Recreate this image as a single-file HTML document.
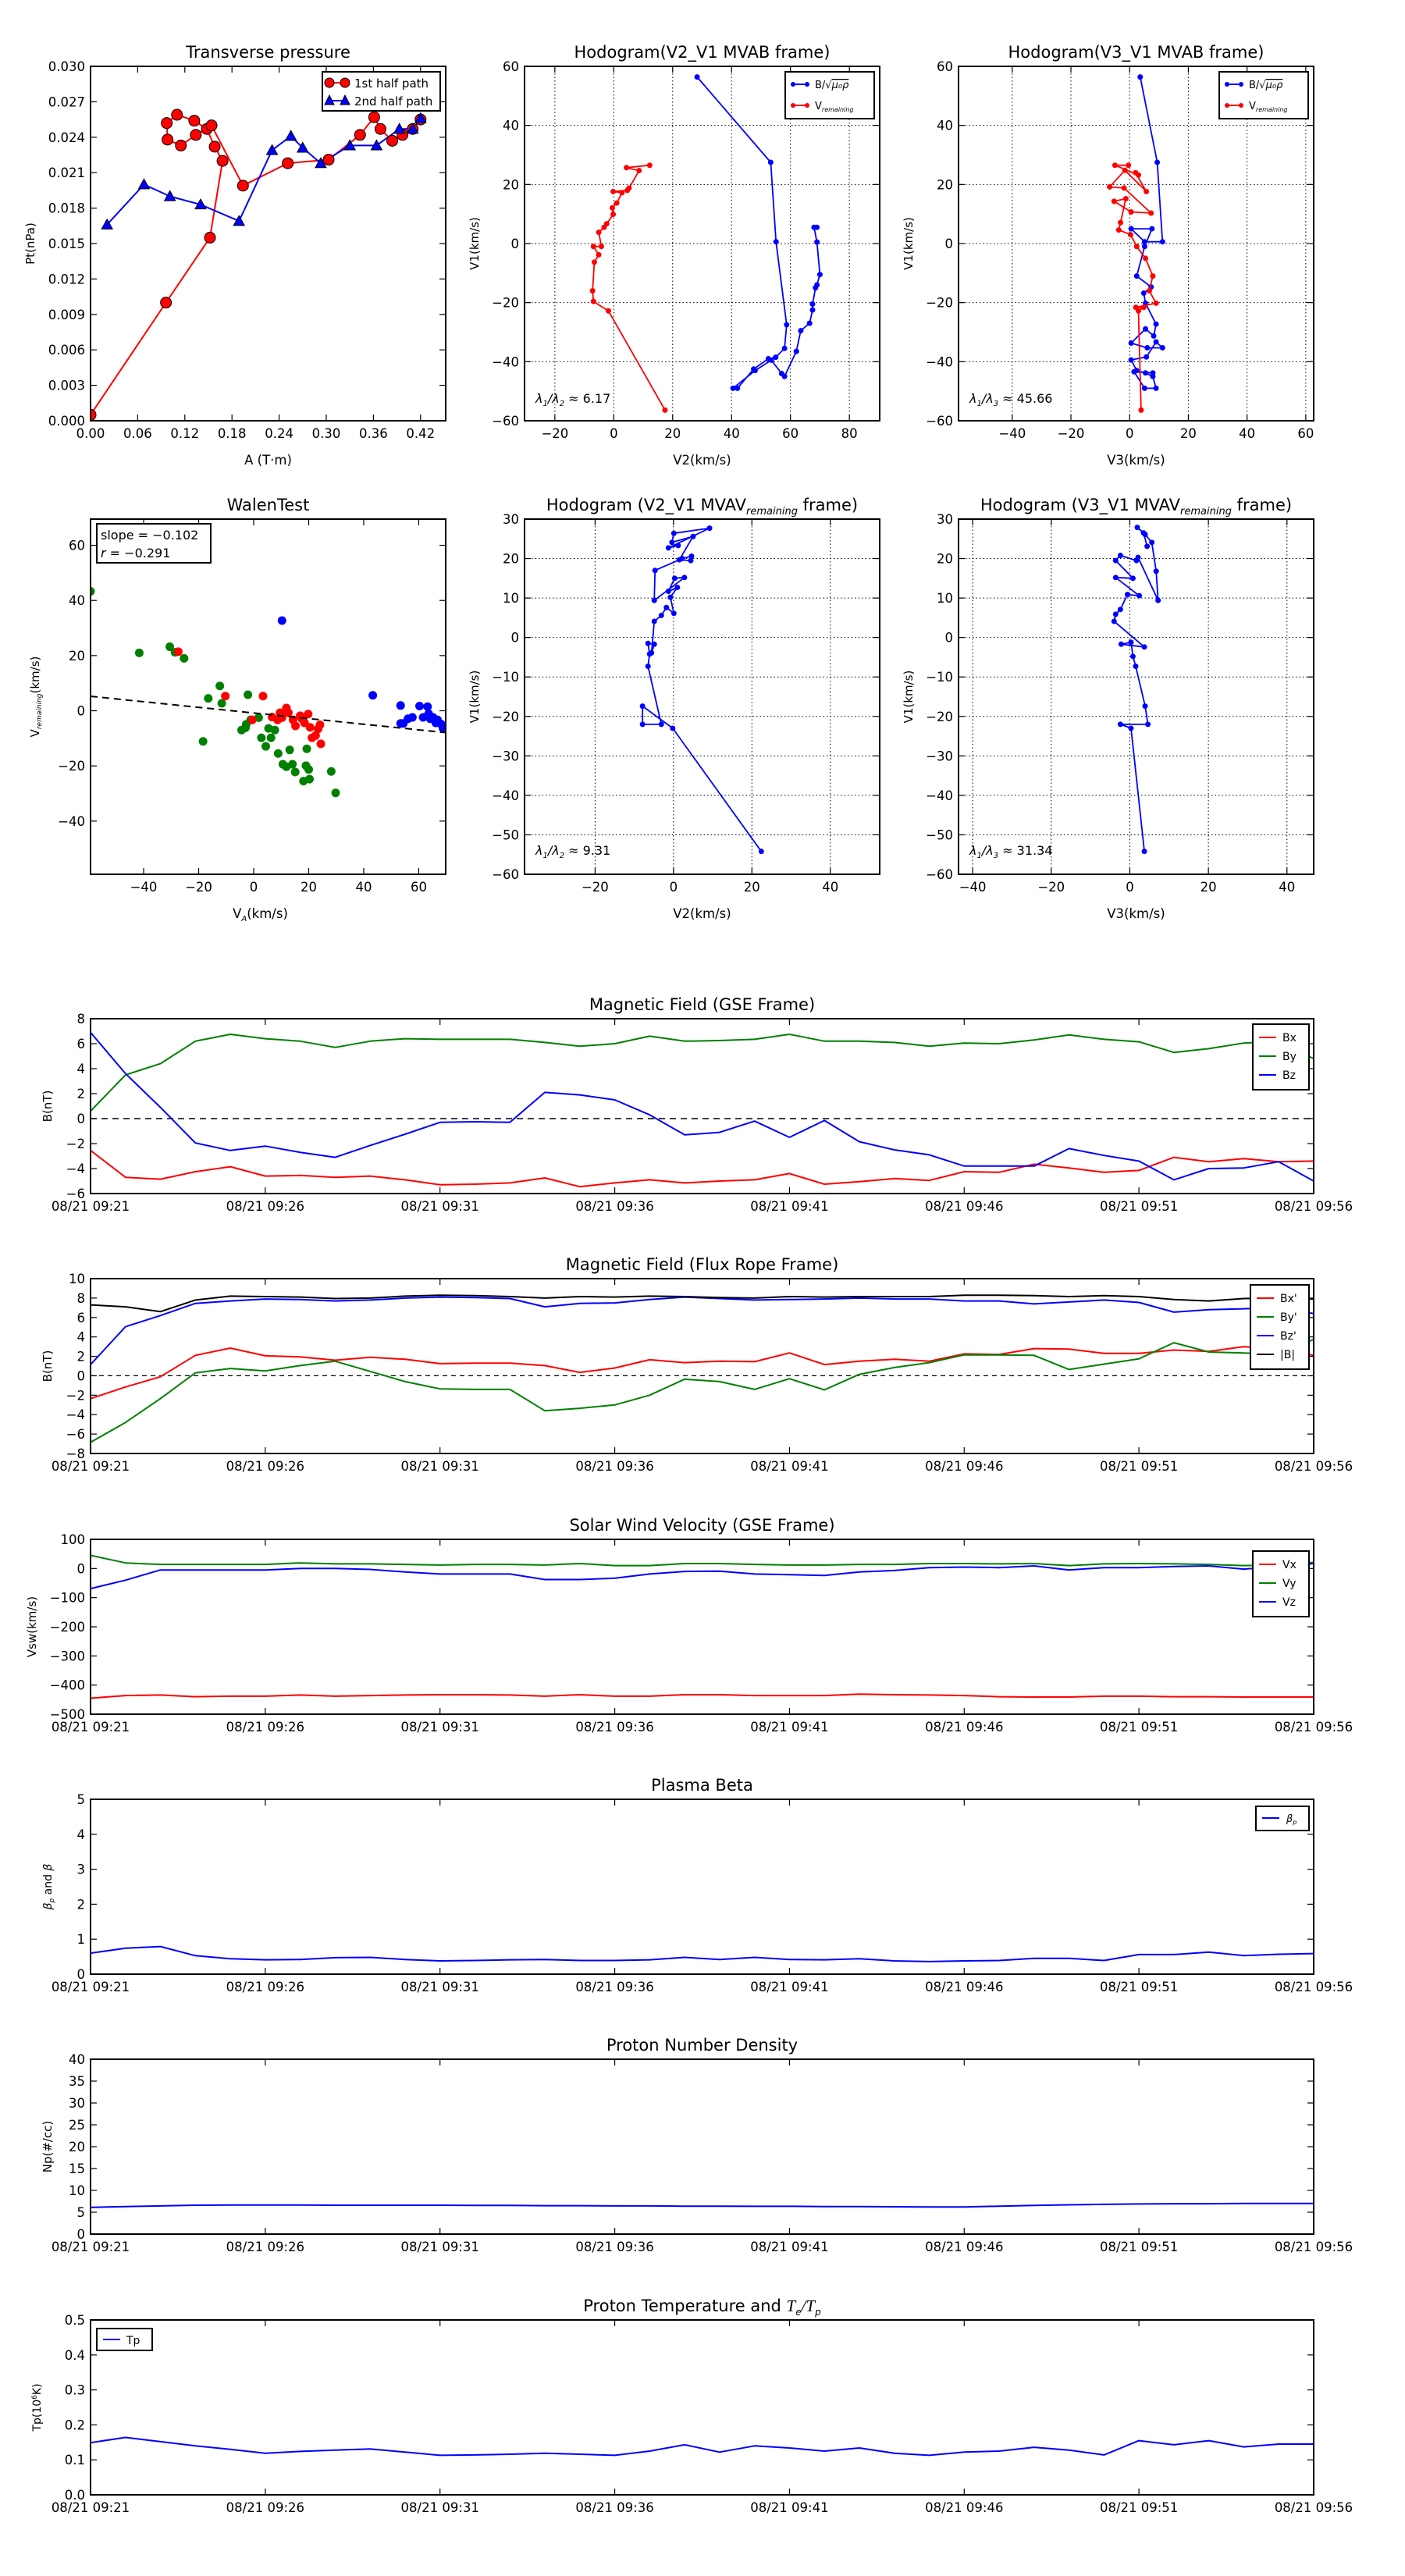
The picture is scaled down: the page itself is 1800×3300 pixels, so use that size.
<!DOCTYPE html>
<html><head><meta charset="utf-8">
<style>
html,body{margin:0;padding:0;background:#fff;}
svg{display:block;}
text{font-family:"DejaVu Sans","Liberation Sans",sans-serif;fill:#000;}
</style></head>
<body>
<svg id="fig" xmlns="http://www.w3.org/2000/svg" width="1800" height="3300" viewBox="0 0 1800 3300">
<rect x="0" y="0" width="1800" height="3300" fill="#fff"/>
</svg>
<script>
// ---------- DATA ----------
const ptRedA = [0.000,0.096,0.152,0.168,0.158,0.148,0.132,0.110,0.097,0.098,0.115,0.134,0.154,0.194,0.251,0.303,0.343,0.361,0.369,0.384,0.397,0.410,0.420];
const ptRedP = [0.0005,0.0100,0.0155,0.0220,0.0232,0.0247,0.0254,0.0259,0.0252,0.0238,0.0233,0.0242,0.0250,0.0199,0.0218,0.0221,0.0242,0.0257,0.0247,0.0237,0.0242,0.0247,0.0255];
const ptBlueA = [0.021,0.068,0.101,0.140,0.189,0.231,0.255,0.270,0.293,0.330,0.364,0.393,0.410,0.420];
const ptBlueP = [0.0166,0.0200,0.0190,0.0183,0.0169,0.0229,0.0241,0.0231,0.0218,0.0233,0.0233,0.0247,0.0247,0.0256];

const h1BlueX = [28.3,53.3,55.1,58.7,58.0,55.0,52.5,47.5,42.0,40.5,48.0,53.5,57.0,58.0,62.0,63.5,66.5,67.5,67.5,68.5,69.0,70.0,69.0,68.0,69.0];
const h1BlueY = [56.4,27.5,0.6,-27.5,-35.5,-38.5,-39.0,-42.5,-49.0,-49.0,-43.0,-39.5,-44.0,-45.0,-36.5,-29.5,-27.0,-22.5,-20.5,-15.0,-14.0,-10.5,0.5,5.5,5.5];
const h1RedX = [12.2,4.3,8.6,5.2,4.6,-0.2,2.8,1.0,-0.5,-0.2,-2.4,-3.3,-5.1,-4.2,-6.9,-5.1,-6.6,-7.2,-6.9,-1.8,17.4];
const h1RedY = [26.5,25.7,24.7,18.8,18.0,17.6,17.2,13.7,12.1,9.9,6.7,5.5,3.8,-1.0,-1.0,-3.8,-6.3,-16.0,-19.6,-22.8,-56.4];

const h2BlueX = [3.6,9.4,11.2,5.1,0.5,7.6,5.1,2.4,7.3,4.8,5.4,9.0,8.2,5.4,0.5,6.0,11.2,9.0,5.7,0.5,2.4,5.4,7.9,9.0,5.1,1.5,7.9];
const h2BlueY = [56.4,27.5,0.6,0.6,5.0,5.0,-1.0,-11.0,-14.7,-16.8,-20.2,-27.3,-31.3,-28.9,-33.7,-35.3,-35.3,-33.3,-38.4,-39.4,-43.0,-43.8,-45.0,-49.0,-49.0,-43.4,-43.8];
const h2RedX = [-0.4,-5.0,3.0,2.0,5.7,-1.6,-6.8,-1.9,7.3,0.5,-5.3,-1.3,-3.1,-3.7,0.3,2.4,5.4,7.9,6.7,9.0,2.1,4.8,3.0,3.9];
const h2RedY = [26.5,26.5,23.2,24.0,17.6,24.8,19.2,18.8,10.3,10.7,14.3,15.2,7.1,4.6,3.0,-1.0,-5.0,-11.0,-16.0,-20.2,-21.6,-21.6,-22.8,-56.4];

const walenGreenX = [-59.3,-41.6,-30.5,-28.6,-25.3,-12.3,-16.5,-11.6,-2.1,1.8,-1.1,-4.4,-2.7,-3.0,-18.4,2.8,5.4,7.7,6.3,4.4,8.9,10.6,11.9,14.1,15.1,13.1,19.0,20.0,18.1,20.3,19.3,28.2,29.8];
const walenGreenY = [43.3,21.0,23.2,21.2,19.0,9.0,4.5,2.7,5.8,-2.5,-3.3,-7.0,-4.9,-6.2,-11.1,-9.8,-6.4,-7.0,-9.8,-12.9,-15.5,-19.4,-20.3,-19.4,-22.2,-14.2,-19.9,-21.3,-25.5,-24.8,-13.8,-22.0,-29.8];
const walenRedX = [-27.4,-10.3,3.4,-0.5,11.9,10.3,8.7,12.6,14.3,15.2,16.9,18.5,19.8,20.5,21.2,23.4,24.1,22.5,24.4,17.5,6.7,9.6];
const walenRedY = [21.4,5.3,5.3,-3.3,1.0,-2.5,-3.3,-0.7,-3.3,-5.5,-1.8,-4.4,-1.2,-6.0,-9.8,-6.6,-5.1,-9.0,-12.0,-2.9,-2.3,-0.7];
const walenBlueX = [10.3,43.3,53.4,60.3,63.2,56.1,54.4,57.7,53.4,63.6,65.2,66.8,68.1,68.8,66.2,64.2,61.6];
const walenBlueY = [32.7,5.6,1.9,1.7,1.5,-2.9,-4.6,-2.4,-4.6,-1.1,-2.4,-3.3,-4.8,-6.3,-4.4,-2.9,-2.4];
const walenSlope = -0.102;
const walenIntercept = -0.8;

const h3X = [22.4,-0.2,-7.9,-7.9,-3.1,-6.5,-6.1,-6.5,-4.9,-5.6,-4.9,-3.1,-1.8,0.1,-0.8,1.0,-1.3,0.3,2.8,-4.9,-4.7,2.2,4.6,4.4,1.5,5.0,-0.4,0.1,9.2,-1.3,1.2];
const h3Y = [-54.2,-23.0,-17.4,-22.0,-22.0,-7.3,-4.2,-1.5,-1.7,-3.9,4.1,5.6,7.6,6.1,10.2,12.7,11.7,15.0,15.2,9.4,17.0,20.0,20.6,19.5,19.7,25.6,24.1,26.4,27.7,22.7,23.3];
const h4X = [3.7,0.3,-2.4,4.6,3.9,1.5,0.8,0.3,-2.2,3.7,-4.0,-3.6,-2.4,-0.6,2.4,-3.6,0.8,-3.6,-2.4,1.7,2.1,7.2,6.7,5.6,3.9,1.9,3.5,4.4];
const h4Y = [-54.2,-23.0,-22.0,-22.0,-17.4,-7.3,-4.8,-1.2,-1.7,-2.4,4.1,5.9,7.1,10.9,10.6,15.2,15.0,19.5,20.8,19.5,20.3,9.4,16.8,24.1,26.1,27.9,26.5,23.1];

const minutes = [0,1,2,3,4,5,6,7,8,9,10,11,12,13,14,15,16,17,18,19,20,21,22,23,24,25,26,27,28,29,30,31,32,33,34,35];
const timeTicks = ["08/21 09:21","08/21 09:26","08/21 09:31","08/21 09:36","08/21 09:41","08/21 09:46","08/21 09:51","08/21 09:56"];
const gseBx = [-2.55,-4.7,-4.85,-4.25,-3.85,-4.6,-4.55,-4.7,-4.6,-4.9,-5.3,-5.25,-5.15,-4.75,-5.45,-5.15,-4.9,-5.15,-5.0,-4.9,-4.4,-5.25,-5.05,-4.8,-4.95,-4.25,-4.3,-3.65,-3.95,-4.3,-4.15,-3.1,-3.45,-3.2,-3.45,-3.4];
const gseBy = [0.6,3.5,4.4,6.2,6.75,6.4,6.2,5.7,6.2,6.4,6.35,6.35,6.35,6.1,5.8,6.0,6.6,6.2,6.25,6.35,6.75,6.2,6.2,6.1,5.8,6.05,6.0,6.3,6.7,6.35,6.15,5.3,5.6,6.05,6.2,4.8];
const gseBz = [6.9,3.6,0.9,-1.95,-2.55,-2.2,-2.7,-3.1,-2.15,-1.25,-0.3,-0.25,-0.3,2.1,1.9,1.5,0.3,-1.3,-1.1,-0.2,-1.5,-0.15,-1.85,-2.5,-2.9,-3.8,-3.8,-3.8,-2.4,-2.95,-3.4,-4.9,-4.0,-3.95,-3.45,-5.0];
const frBx = [-2.35,-1.15,-0.1,2.1,2.85,2.05,1.95,1.6,1.9,1.7,1.25,1.3,1.3,1.05,0.35,0.8,1.65,1.35,1.5,1.45,2.35,1.15,1.5,1.7,1.5,2.25,2.2,2.8,2.75,2.3,2.3,2.65,2.5,3.0,2.7,2.1];
const frBy = [-6.85,-4.8,-2.35,0.3,0.75,0.5,1.05,1.5,0.45,-0.6,-1.35,-1.4,-1.4,-3.6,-3.35,-3.0,-2.0,-0.35,-0.6,-1.4,-0.3,-1.45,0.15,0.85,1.35,2.15,2.15,2.1,0.65,1.2,1.75,3.4,2.45,2.35,2.2,3.75];
const frBz = [1.15,5.05,6.2,7.45,7.7,7.9,7.85,7.7,7.8,8.0,8.1,8.05,7.95,7.1,7.45,7.5,7.85,8.1,7.95,7.8,7.85,7.9,8.0,7.9,7.9,7.7,7.7,7.4,7.6,7.8,7.55,6.55,6.8,6.9,7.05,6.4];
const frBt = [7.3,7.1,6.6,7.8,8.2,8.15,8.1,7.95,8.0,8.2,8.3,8.25,8.15,8.0,8.15,8.1,8.2,8.15,8.05,8.0,8.15,8.1,8.15,8.15,8.15,8.3,8.3,8.25,8.15,8.25,8.15,7.85,7.7,7.95,8.0,7.9];
const vx = [-445,-436,-434,-440,-438,-438,-434,-438,-436,-434,-433,-433,-434,-438,-433,-438,-438,-433,-433,-436,-436,-436,-431,-433,-434,-436,-440,-441,-441,-438,-438,-440,-440,-441,-441,-441];
const vy = [45,19,14,14,14,14,19,16,16,14,12,14,14,12,17,10,10,17,17,14,12,12,14,14,17,17,16,17,10,16,17,16,14,10,12,21];
const vz = [-69,-40,-5,-5,-5,-5,0,0,-3,-12,-19,-19,-19,-38,-38,-33,-19,-10,-9,-19,-21,-24,-12,-7,3,5,3,9,-5,3,3,7,9,-2,7,17];
const betaP = [0.6,0.74,0.79,0.53,0.44,0.41,0.42,0.47,0.48,0.42,0.38,0.39,0.41,0.42,0.39,0.39,0.41,0.48,0.42,0.48,0.42,0.41,0.44,0.38,0.36,0.38,0.39,0.45,0.45,0.39,0.56,0.56,0.63,0.53,0.57,0.59];
const density = [6.1,6.3,6.45,6.6,6.65,6.65,6.65,6.6,6.6,6.6,6.6,6.55,6.55,6.5,6.5,6.45,6.45,6.4,6.4,6.35,6.35,6.3,6.3,6.25,6.2,6.2,6.4,6.55,6.7,6.8,6.9,6.95,6.95,7.0,7.0,7.0];
const tempP = [0.149,0.164,0.152,0.140,0.130,0.119,0.124,0.128,0.131,0.122,0.113,0.114,0.116,0.119,0.116,0.113,0.125,0.143,0.122,0.140,0.134,0.125,0.134,0.119,0.113,0.122,0.125,0.136,0.128,0.114,0.155,0.143,0.155,0.137,0.145,0.145];

// ---------- HELPERS ----------
const NS = "http://www.w3.org/2000/svg";
const svg = document.getElementById('fig');
const MINUS = '\u2212';
function el(tag, attrs, parent, name, inter) {
  const e = document.createElementNS(NS, tag);
  for (const k in attrs) e.setAttribute(k, attrs[k]);
  
  
  (parent || svg).appendChild(e);
  return e;
}
function txt(s, x, y, size, anchor, parent, name, extra) {
  const a = {x: x, y: y, 'font-size': size, 'text-anchor': anchor || 'middle'};
  if (extra) for (const k in extra) a[k] = extra[k];
  const t = el('text', a, parent, name, false);
  t.textContent = s;
  return t;
}
function fmt(v, d) {
  const s = Math.abs(v).toFixed(d);
  return (v < -1e-9 ? MINUS : '') + s;
}
let clipId = 0;
function makePanel(name, x0, y0, w, h, xmin, xmax, ymin, ymax) {
  const g = el('g', {}, svg, name, false);
  const p = {g, x0, y0, w, h, xmin, xmax, ymin, ymax};
  p.sx = v => x0 + (v - xmin) / (xmax - xmin) * w;
  p.sy = v => y0 + h - (v - ymin) / (ymax - ymin) * h;
  clipId++;
  const cp = el('clipPath', {id: 'clip' + clipId}, g, name + '-clip', false);
  el('rect', {x: x0, y: y0, width: w, height: h}, cp, name + '-clip-rect', false);
  p.plot = el('g', {'clip-path': 'url(#clip' + clipId + ')'}, g, name + '-plot-area', false);
  return p;
}
function frame(p) {
  el('rect', {x: p.x0, y: p.y0, width: p.w, height: p.h, fill: 'none', stroke: '#000', 'stroke-width': 2}, p.g, 'axes-frame', false);
}
function xTicks(p, vals, labels, grid) {
  const gg = el('g', {}, p.g, 'x-axis', false);
  vals.forEach((v, i) => {
    const X = p.sx(v);
    if (grid) el('line', {x1: X, x2: X, y1: p.y0, y2: p.y0 + p.h, stroke: '#000', 'stroke-width': 1, 'stroke-dasharray': '1.5,3'}, p.plot, 'x-grid-line', false);
    el('line', {x1: X, x2: X, y1: p.y0 + p.h, y2: p.y0 + p.h - 8, stroke: '#000', 'stroke-width': 1.2}, gg, 'x-tick', false);
    el('line', {x1: X, x2: X, y1: p.y0, y2: p.y0 + 8, stroke: '#000', 'stroke-width': 1.2}, gg, 'x-tick-top', false);
    txt(labels[i], X, p.y0 + p.h + 22, 16.5, 'middle', gg, 'x-tick-label');
  });
}
function yTicks(p, vals, labels, grid) {
  const gg = el('g', {}, p.g, 'y-axis', false);
  vals.forEach((v, i) => {
    const Y = p.sy(v);
    if (grid) el('line', {x1: p.x0, x2: p.x0 + p.w, y1: Y, y2: Y, stroke: '#000', 'stroke-width': 1, 'stroke-dasharray': '1.5,3'}, p.plot, 'y-grid-line', false);
    el('line', {x1: p.x0, x2: p.x0 + 8, y1: Y, y2: Y, stroke: '#000', 'stroke-width': 1.2}, gg, 'y-tick', false);
    el('line', {x1: p.x0 + p.w, x2: p.x0 + p.w - 8, y1: Y, y2: Y, stroke: '#000', 'stroke-width': 1.2}, gg, 'y-tick-right', false);
    txt(labels[i], p.x0 - 7, Y + 6, 16.5, 'end', gg, 'y-tick-label');
  });
}
function range(a, b, s) { const r = []; for (let v = a; v <= b + 1e-9; v += s) r.push(+v.toFixed(6)); return r; }
function polyline(p, xs, ys, color, width, name, dash) {
  const pts = xs.map((x, i) => p.sx(x).toFixed(1) + ',' + p.sy(ys[i]).toFixed(1)).join(' ');
  const a = {points: pts, fill: 'none', stroke: color, 'stroke-width': width, 'stroke-linejoin': 'round'};
  if (dash) a['stroke-dasharray'] = dash;
  return el('polyline', a, p.plot, name, false);
}
function dots(p, xs, ys, color, r, name, stroke) {
  xs.forEach((x, i) => {
    const a = {cx: p.sx(x), cy: p.sy(ys[i]), r: r, fill: color};
    if (stroke) { a.stroke = '#000'; a['stroke-width'] = 1; }
    el('circle', a, p.plot, name, false);
  });
}
function tris(p, xs, ys, color, s, name) {
  xs.forEach((x, i) => {
    const X = p.sx(x), Y = p.sy(ys[i]);
    el('polygon', {points: `${X},${Y - s} ${X - s},${Y + s * 0.8} ${X + s},${Y + s * 0.8}`, fill: color, stroke: '#000', 'stroke-width': 1}, p.plot, name, false);
  });
}
function title(p, s, name) { return txt(s, p.x0 + p.w / 2, p.y0 - 11, 21, 'middle', p.g, name || 'chart-title'); }
function ylabel(p, s, x, name) {
  return txt(s, x, p.y0 + p.h / 2, 15, 'middle', p.g, name || 'y-axis-title', {transform: `rotate(-90 ${x} ${p.y0 + p.h / 2})`});
}
function xlabel(p, s, name) { return txt(s, p.x0 + p.w / 2, p.y0 + p.h + 56, 16.5, 'middle', p.g, name || 'x-axis-title'); }
function legendBox(p, x, y, w, h, name) {
  const g = el('g', {}, p.g, name, false);
  el('rect', {x, y, width: w, height: h, fill: '#fff', stroke: '#000', 'stroke-width': 2}, g, 'legend-frame', false);
  return g;
}

// ---------- TOP ROW ----------
const colX = [116, 672, 1228], PW = 455, PH = 454;
// Transverse pressure
const pPt = makePanel('transverse-pressure-chart', colX[0], 85, PW, PH, 0, 0.452, 0, 0.030);
polyline(pPt, ptRedA, ptRedP, '#f00', 2, 'first-half-path-line');
polyline(pPt, ptBlueA, ptBlueP, '#00f', 2, 'second-half-path-line');
dots(pPt, ptRedA, ptRedP, '#f00', 7, 'first-half-point', true);
tris(pPt, ptBlueA, ptBlueP, '#00f', 7, 'second-half-point');
frame(pPt);
const ptX = range(0, 0.42, 0.06); xTicks(pPt, ptX, ptX.map(v => v.toFixed(2)));
const ptY = range(0, 0.030, 0.003); yTicks(pPt, ptY, ptY.map(v => v.toFixed(3)));
title(pPt, 'Transverse pressure');
xlabel(pPt, 'A (T\u00b7m)');
ylabel(pPt, 'Pt(nPa)', 44);
{
  const g = legendBox(pPt, 413, 92, 151, 50, 'pt-legend');
  el('line', {x1: 422, x2: 442, y1: 106, y2: 106, stroke: '#f00', 'stroke-width': 2}, g, 'legend-line', false);
  el('circle', {cx: 422, cy: 106, r: 6, fill: '#f00', stroke: '#000'}, g, 'legend-marker', false);
  el('circle', {cx: 442, cy: 106, r: 6, fill: '#f00', stroke: '#000'}, g, 'legend-marker', false);
  txt('1st half path', 454, 112, 15, 'start', g, 'legend-entry-first-half');
  el('line', {x1: 422, x2: 442, y1: 129, y2: 129, stroke: '#00f', 'stroke-width': 2}, g, 'legend-line', false);
  el('polygon', {points: '422,122 416,134 428,134', fill: '#00f', stroke: '#000'}, g, 'legend-marker', false);
  el('polygon', {points: '442,122 436,134 448,134', fill: '#00f', stroke: '#000'}, g, 'legend-marker', false);
  txt('2nd half path', 454, 135, 15, 'start', g, 'legend-entry-second-half');
}

function hodoLegend(p, x, name) {
  const g = legendBox(p, x, 92, 114, 60, name);
  el('line', {x1: x + 8, x2: x + 30, y1: 108, y2: 108, stroke: '#00f', 'stroke-width': 2}, g, 'legend-line', false);
  el('circle', {cx: x + 10, cy: 108, r: 3, fill: '#00f'}, g, 'legend-marker', false);
  el('circle', {cx: x + 28, cy: 108, r: 3, fill: '#00f'}, g, 'legend-marker', false);
  const t1 = txt('B/\u221A', x + 38, 113, 13, 'start', g, 'legend-entry-b');
  const ts = el('tspan', {'font-style': 'italic', 'text-decoration': 'overline'}, t1, 'legend-sqrt-arg', false);
  ts.textContent = '\u03bc\u2080\u03c1';
  el('line', {x1: x + 8, x2: x + 30, y1: 135, y2: 135, stroke: '#f00', 'stroke-width': 2}, g, 'legend-line', false);
  el('circle', {cx: x + 10, cy: 135, r: 3, fill: '#f00'}, g, 'legend-marker', false);
  el('circle', {cx: x + 28, cy: 135, r: 3, fill: '#f00'}, g, 'legend-marker', false);
  const t2 = txt('V', x + 38, 140, 13, 'start', g, 'legend-entry-v');
  const sub = el('tspan', {'font-size': 8, 'font-style': 'italic', dy: 3}, t2, 'legend-subscript', false);
  sub.textContent = 'remaining';
}
function lambdaText(p, s1, s2, val, y) {
  const t = txt('\u03bb', p.x0 + 14, y, 16, 'start', p.g, 'eigenvalue-ratio', {'font-style': 'italic'});
  const a = el('tspan', {'font-size': 10, dy: 4}, t, 'subscript', false); a.textContent = s1;
  const b = el('tspan', {dy: -4}, t, 'ratio-slash', false); b.textContent = '/\u03bb';
  const c = el('tspan', {'font-size': 10, dy: 4}, t, 'subscript', false); c.textContent = s2;
  const d = el('tspan', {dy: -4, 'font-style': 'normal'}, t, 'ratio-value', false); d.textContent = ' \u2248 ' + val;
}

// Hodogram V2_V1 MVAB
const pH1 = makePanel('hodogram-v2-v1-mvab', colX[1], 85, PW, PH, -30.3, 90.3, -60, 60);
const h1Xt = range(-20, 80, 20), h1Yt = range(-60, 60, 20);
xTicks(pH1, h1Xt, h1Xt.map(v => fmt(v, 0)), true);
yTicks(pH1, h1Yt, h1Yt.map(v => fmt(v, 0)), true);
polyline(pH1, h1BlueX, h1BlueY, '#00f', 1.8, 'b-field-hodogram-line');
dots(pH1, h1BlueX, h1BlueY, '#00f', 3.5, 'b-field-point');
polyline(pH1, h1RedX, h1RedY, '#f00', 1.8, 'v-remaining-hodogram-line');
dots(pH1, h1RedX, h1RedY, '#f00', 3.5, 'v-remaining-point');
frame(pH1);
title(pH1, 'Hodogram(V2_V1 MVAB frame)');
xlabel(pH1, 'V2(km/s)'); ylabel(pH1, 'V1(km/s)', 613);
hodoLegend(pH1, 1006, 'hodogram1-legend');
lambdaText(pH1, '1', '2', '6.17', 516);

// Hodogram V3_V1 MVAB
const pH2 = makePanel('hodogram-v3-v1-mvab', colX[2], 85, PW, PH, -58.3, 62.7, -60, 60);
const h2Xt = range(-40, 60, 20);
xTicks(pH2, h2Xt, h2Xt.map(v => fmt(v, 0)), true);
yTicks(pH2, h1Yt, h1Yt.map(v => fmt(v, 0)), true);
polyline(pH2, h2BlueX, h2BlueY, '#00f', 1.8, 'b-field-hodogram-line');
dots(pH2, h2BlueX, h2BlueY, '#00f', 3.5, 'b-field-point');
polyline(pH2, h2RedX, h2RedY, '#f00', 1.8, 'v-remaining-hodogram-line');
dots(pH2, h2RedX, h2RedY, '#f00', 3.5, 'v-remaining-point');
frame(pH2);
title(pH2, 'Hodogram(V3_V1 MVAB frame)');
xlabel(pH2, 'V3(km/s)'); ylabel(pH2, 'V1(km/s)', 1169);
hodoLegend(pH2, 1562, 'hodogram2-legend');
lambdaText(pH2, '1', '3', '45.66', 516);

// ---------- SECOND ROW ----------
const pW = makePanel('walen-test-chart', colX[0], 665, PW, 455, -59.3, 69.8, -59.3, 69.5);
dots(pW, walenGreenX, walenGreenY, '#008000', 5.5, 'walen-point-green');
dots(pW, walenRedX, walenRedY, '#f00', 5.5, 'walen-point-red');
dots(pW, walenBlueX, walenBlueY, '#00f', 5.5, 'walen-point-blue');
{
  const fx = [pW.xmin, pW.xmax];
  const fy = fx.map(x => walenSlope * x + walenIntercept);
  polyline(pW, fx, fy, '#000', 2, 'walen-fit-line', '9,6');
}
frame(pW);
const wXt = range(-40, 60, 20), wYt = range(-40, 60, 20);
xTicks(pW, wXt, wXt.map(v => fmt(v, 0)));
yTicks(pW, wYt, wYt.map(v => fmt(v, 0)));
title(pW, 'WalenTest');
{
  const t = txt('V', pW.x0 + pW.w / 2 - 10, pW.y0 + pW.h + 56, 16.5, 'middle', pW.g, 'x-axis-title');
  const s = el('tspan', {'font-size': 10, 'font-style': 'italic', dy: 4}, t, 'subscript', false); s.textContent = 'A';
  const r = el('tspan', {dy: -4}, t, 'unit', false); r.textContent = '(km/s)';
  const yc = pW.y0 + pW.h / 2;
  const t2 = txt('V', 50, yc, 15, 'middle', pW.g, 'y-axis-title', {transform: `rotate(-90 50 ${yc})`});
  const s2 = el('tspan', {'font-size': 9, 'font-style': 'italic', dy: 3}, t2, 'subscript', false); s2.textContent = 'remaining';
  const r2 = el('tspan', {dy: -3}, t2, 'unit', false); r2.textContent = '(km/s)';
  const g = legendBox(pW, 124, 671, 146, 50, 'walen-stats-box');
  txt('slope = ' + MINUS + '0.102', 129, 691, 16, 'start', g, 'slope-text');
  const rt = txt('r', 129, 714, 16, 'start', g, 'correlation-text', {'font-style': 'italic'});
  const rv = el('tspan', {'font-style': 'normal'}, rt, 'correlation-value', false); rv.textContent = ' = ' + MINUS + '0.291';
}

function hodoTitle(p, pre) {
  const t = txt(pre, p.x0 + p.w / 2, p.y0 - 11, 21, 'middle', p.g, 'chart-title');
  const s = el('tspan', {'font-size': 13, 'font-style': 'italic', dy: 5}, t, 'title-subscript', false); s.textContent = 'remaining';
  const e = el('tspan', {dy: -5}, t, 'title-end', false); e.textContent = ' frame)';
}
const rowYt = range(-60, 30, 10);
const pH3 = makePanel('hodogram-v2-v1-mvav', colX[1], 665, PW, 455, -38, 52.6, -60, 30);
const h3Xt = range(-20, 40, 20);
xTicks(pH3, h3Xt, h3Xt.map(v => fmt(v, 0)), true);
yTicks(pH3, rowYt, rowYt.map(v => fmt(v, 0)), true);
polyline(pH3, h3X, h3Y, '#00f', 1.8, 'b-field-hodogram-line');
dots(pH3, h3X, h3Y, '#00f', 3.5, 'b-field-point');
frame(pH3);
hodoTitle(pH3, 'Hodogram (V2_V1 MVAV');
xlabel(pH3, 'V2(km/s)'); ylabel(pH3, 'V1(km/s)', 613);
lambdaText(pH3, '1', '2', '9.31', 1095);

const pH4 = makePanel('hodogram-v3-v1-mvav', colX[2], 665, PW, 455, -43.6, 46.8, -60, 30);
const h4Xt = range(-40, 40, 20);
xTicks(pH4, h4Xt, h4Xt.map(v => fmt(v, 0)), true);
yTicks(pH4, rowYt, rowYt.map(v => fmt(v, 0)), true);
polyline(pH4, h4X, h4Y, '#00f', 1.8, 'b-field-hodogram-line');
dots(pH4, h4X, h4Y, '#00f', 3.5, 'b-field-point');
frame(pH4);
hodoTitle(pH4, 'Hodogram (V3_V1 MVAV');
xlabel(pH4, 'V3(km/s)'); ylabel(pH4, 'V1(km/s)', 1169);
lambdaText(pH4, '1', '3', '31.34', 1095);

// ---------- TIME SERIES ----------
const tsTop = [1305, 1638, 1972, 2305, 2638, 2972];
const TSW = 1567;
function tsPanel(i, name, ymin, ymax, ystep, dec) {
  const p = makePanel(name, 116, tsTop[i], TSW, 224, 0, 35, ymin, ymax);
  const tv = range(0, 35, 5);
  xTicks(p, tv, timeTicks);
  const yv = range(ymin, ymax, ystep);
  yTicks(p, yv, yv.map(v => fmt(v, dec)));
  return p;
}
function tsLegend(p, x, y, entries, name) {
  const h = 12 + entries.length * 24;
  const g = legendBox(p, x, y, 1677 - x, h, name);
  entries.forEach((e, i) => {
    const yy = y + 17 + i * 24;
    el('line', {x1: x + 8, x2: x + 30, y1: yy, y2: yy, stroke: e[1], 'stroke-width': 2}, g, 'legend-line', false);
    txt(e[0], x + 38, yy + 5, 14, 'start', g, 'legend-entry');
  });
}
const pG = tsPanel(0, 'magnetic-field-gse-chart', -6, 8, 2, 0);
polyline(pG, [0, 35], [0, 0], '#000', 1.5, 'zero-line', '8,6');
polyline(pG, minutes, gseBx, '#f00', 2, 'bx-line');
polyline(pG, minutes, gseBy, '#008000', 2, 'by-line');
polyline(pG, minutes, gseBz, '#00f', 2, 'bz-line');
frame(pG); title(pG, 'Magnetic Field (GSE Frame)'); ylabel(pG, 'B(nT)', 66);
tsLegend(pG, 1605, 1312, [['Bx', '#f00'], ['By', '#008000'], ['Bz', '#00f']], 'gse-legend');

const pF = tsPanel(1, 'magnetic-field-flux-rope-chart', -8, 10, 2, 0);
polyline(pF, [0, 35], [0, 0], '#000', 1.2, 'zero-line', '6,5');
polyline(pF, minutes, frBx, '#f00', 2, 'bx-prime-line');
polyline(pF, minutes, frBy, '#008000', 2, 'by-prime-line');
polyline(pF, minutes, frBz, '#00f', 2, 'bz-prime-line');
polyline(pF, minutes, frBt, '#000', 2, 'b-magnitude-line');
frame(pF); title(pF, 'Magnetic Field (Flux Rope Frame)'); ylabel(pF, 'B(nT)', 66);
tsLegend(pF, 1602, 1646, [["Bx'", '#f00'], ["By'", '#008000'], ["Bz'", '#00f'], ['|B|', '#000']], 'flux-rope-legend');

const pV = tsPanel(2, 'solar-wind-velocity-chart', -500, 100, 100, 0);
polyline(pV, minutes, vx, '#f00', 2, 'vx-line');
polyline(pV, minutes, vy, '#008000', 2, 'vy-line');
polyline(pV, minutes, vz, '#00f', 2, 'vz-line');
frame(pV); title(pV, 'Solar Wind Velocity (GSE Frame)'); ylabel(pV, 'Vsw(km/s)', 46);
tsLegend(pV, 1605, 1987, [['Vx', '#f00'], ['Vy', '#008000'], ['Vz', '#00f']], 'velocity-legend');

const pB = tsPanel(3, 'plasma-beta-chart', 0, 5, 1, 0);
polyline(pB, minutes, betaP, '#00f', 2, 'beta-p-line');
frame(pB); title(pB, 'Plasma Beta');
{
  const yc = pB.y0 + pB.h / 2;
  const t = txt('\u03b2', 66, yc, 14, 'middle', pB.g, 'y-axis-title', {transform: `rotate(-90 66 ${yc})`, 'font-style': 'italic'});
  const s = el('tspan', {'font-size': 9, dy: 3}, t, 'subscript', false); s.textContent = 'p';
  const r = el('tspan', {dy: -3, 'font-style': 'normal'}, t, 'label-rest', false); r.textContent = ' and ';
  const b = el('tspan', {}, t, 'label-beta', false); b.textContent = '\u03b2';
  const g = legendBox(pB, 1609, 2314, 68, 31, 'plasma-beta-legend');
  el('line', {x1: 1617, x2: 1639, y1: 2329, y2: 2329, stroke: '#00f', 'stroke-width': 2}, g, 'legend-line', false);
  const lt = txt('\u03b2', 1648, 2334, 13, 'start', g, 'legend-entry', {'font-style': 'italic'});
  const ls = el('tspan', {'font-size': 8, dy: 3}, lt, 'subscript', false); ls.textContent = 'p';
}

const pN = tsPanel(4, 'proton-density-chart', 0, 40, 5, 0);
polyline(pN, minutes, density, '#00f', 2, 'density-line');
frame(pN); title(pN, 'Proton Number Density'); ylabel(pN, 'Np(#/cc)', 66);

const pT = tsPanel(5, 'proton-temperature-chart', 0, 0.5, 0.1, 1);
polyline(pT, minutes, tempP, '#00f', 2, 'tp-line');
frame(pT);
{
  const t = txt('Proton Temperature and ', pT.x0 + pT.w / 2, pT.y0 - 11, 21, 'middle', pT.g, 'chart-title');
  const a = el('tspan', {'font-style': 'italic', 'font-family': 'Liberation Serif, serif'}, t, 'title-math', false); a.textContent = 'T';
  const b = el('tspan', {'font-size': 12, 'font-style': 'italic', dy: 5}, t, 'subscript', false); b.textContent = 'e';
  const c = el('tspan', {dy: -5, 'font-style': 'italic', 'font-family': 'Liberation Serif, serif'}, t, 'title-math', false); c.textContent = '/T';
  const d = el('tspan', {'font-size': 12, 'font-style': 'italic', dy: 5}, t, 'subscript', false); d.textContent = 'p';
  const yc = pT.y0 + pT.h / 2;
  const yl = txt('Tp(10', 52, yc, 14, 'middle', pT.g, 'y-axis-title', {transform: `rotate(-90 52 ${yc})`});
  const sp = el('tspan', {'font-size': 9, dy: -5}, yl, 'superscript', false); sp.textContent = '6';
  const rest = el('tspan', {dy: 5}, yl, 'label-rest', false); rest.textContent = 'K)';
  const g = legendBox(pT, 124, 2983, 71, 28, 'temperature-legend');
  el('line', {x1: 132, x2: 154, y1: 2997, y2: 2997, stroke: '#00f', 'stroke-width': 2}, g, 'legend-line', false);
  txt('Tp', 162, 3003, 14, 'start', g, 'legend-entry');
}
</script>
</body></html>
